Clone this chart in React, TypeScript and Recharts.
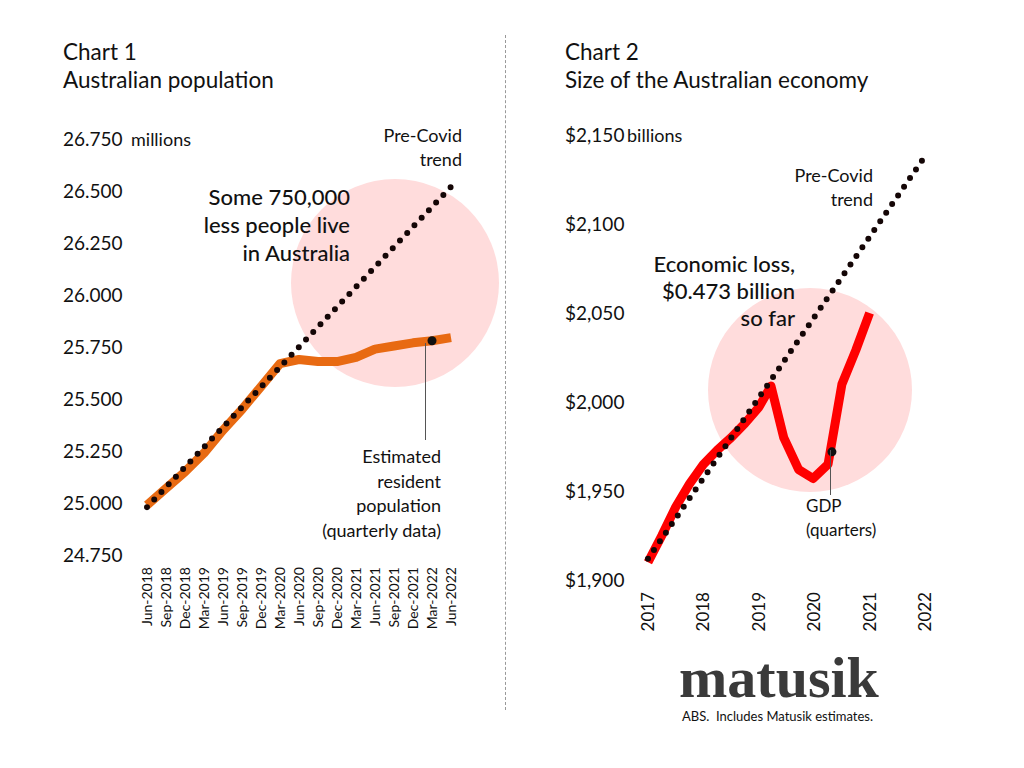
import React from "react";
import { LineChart, Line, XAxis, YAxis, ReferenceDot } from "recharts";

const FONT = "Lato, 'Noto Sans', sans-serif";

// Chart 1 – Australian population (millions)
const quarters = [
  "Jun-2018", "Sep-2018", "Dec-2018", "Mar-2019", "Jun-2019", "Sep-2019", "Dec-2019", "Mar-2020",
  "Jun-2020", "Sep-2020", "Dec-2020", "Mar-2021", "Jun-2021", "Sep-2021", "Dec-2021", "Mar-2022", "Jun-2022",
];
const population = [
  24.99, 25.07, 25.15, 25.24, 25.35, 25.45, 25.56, 25.67,
  25.69, 25.68, 25.68, 25.70, 25.74, 25.755, 25.77, 25.78, 25.795,
];
const popTrend: (number | null)[] = [
  24.98, null, null, null, null, null, null, null,
  null, null, null, null, null, null, null, null, 26.52,
];
const popTicks = [24.75, 25.0, 25.25, 25.5, 25.75, 26.0, 26.25, 26.5, 26.75];

// Chart 2 – GDP (billions)
const gdpYears = [
  2017.0, 2017.25, 2017.5, 2017.75, 2018.0, 2018.25, 2018.5, 2018.75, 2019.0,
  2019.22, 2019.45, 2019.72, 2019.98, 2020.25, 2020.5, 2020.75, 2021.0,
];
const gdpValues = [
  1910, 1925, 1941, 1954, 1965, 1973, 1980, 1988, 1997,
  2009, 1980, 1962, 1957, 1965, 2010, 2029, 2050,
];
const gdpTrendYears = [2017, 2022];
const gdpTrendValues = [1912, 2138];
const gdpTicks = [1900, 1950, 2000, 2050, 2100, 2150];
const yearTicks = [2017, 2018, 2019, 2020, 2021, 2022];

const popData = quarters.map((q, i) => ({ q, pop: population[i], trend: popTrend[i] }));
const gdpData = gdpYears.map((x, i) => ({ x, v: gdpValues[i] }));
const gdpTrend = gdpTrendYears.map((x, i) => ({ x, t: gdpTrendValues[i] }));

const DOTS = { stroke: "#140606", strokeWidth: 6, strokeDasharray: "0 10.5", strokeLinecap: "round" as const };

const LeftTick = (labelX: number, fmt: (v: number) => string) => (p: any) => (
  <text x={labelX} y={p.y + 7} fontSize={19} fontFamily={FONT} fill="#111" textAnchor="start">
    {fmt(p.payload.value)}
  </text>
);

const RotTick = (size: number) => (p: any) => (
  <text
    x={p.x + size * 0.35}
    y={p.y + 4}
    transform={`rotate(-90 ${p.x + size * 0.35} ${p.y + 4})`}
    fontSize={size}
    fontFamily={FONT}
    fill="#111"
    textAnchor="end"
  >
    {p.payload.value}
  </text>
);

const abs = (left: number, top: number, extra: React.CSSProperties = {}): React.CSSProperties => ({
  position: "absolute", left, top, fontFamily: FONT, color: "#111", whiteSpace: "nowrap", ...extra,
});

function Circle({ cx, cy, r }: { cx: number; cy: number; r: number }) {
  return (
    <div style={{ position: "absolute", left: cx - r, top: cy - r, width: r * 2, height: r * 2, borderRadius: "50%", background: "#FFDCDC" }} />
  );
}

export default function App() {
  return (
    <div style={{ position: "absolute", left: 0, top: 0, width: 1024, height: 768, background: "#fff", overflow: "hidden" }}>
      <Circle cx={395} cy={283} r={104} />
      <Circle cx={810} cy={390} r={102} />
      <div style={{ position: "absolute", left: 505, top: 35, height: 675, borderLeft: "1px dashed #999" }} />

      <div style={{ position: "absolute", left: 0, top: 0 }}>
        <LineChart width={500} height={768} data={popData} margin={{ top: 139, right: 49, left: 47, bottom: 113 }}>
          <XAxis dataKey="q" axisLine={false} tickLine={false} interval={0} height={100} tick={RotTick(14)} />
          <YAxis
            domain={[24.75, 26.75]}
            ticks={popTicks}
            axisLine={false}
            tickLine={false}
            width={100}
            tick={LeftTick(63, (v) => v.toFixed(3))}
          />
          <Line dataKey="pop" stroke="#E86A12" strokeWidth={9} dot={false} isAnimationActive={false} strokeLinejoin="round" />
          <Line dataKey="trend" connectNulls dot={false} isAnimationActive={false} {...DOTS} />
          <ReferenceDot x="Mar-2022" y={25.78} r={4.5} fill="#111" stroke="none" />
        </LineChart>
      </div>

      <div style={{ position: "absolute", left: 500, top: 0 }}>
        <LineChart width={524} height={768} margin={{ top: 135, right: 99, left: 48, bottom: 98 }}>
          <XAxis
            type="number"
            dataKey="x"
            domain={[2017, 2022]}
            ticks={yearTicks}
            axisLine={false}
            tickLine={false}
            height={90}
            tick={RotTick(17)}
            allowDuplicatedCategory={false}
          />
          <YAxis
            domain={[1900, 2150]}
            ticks={gdpTicks}
            axisLine={false}
            tickLine={false}
            width={100}
            tick={LeftTick(65, (v) => "$" + v.toLocaleString("en-US"))}
          />
          <Line data={gdpData} dataKey="v" stroke="#FF0000" strokeWidth={9} dot={false} isAnimationActive={false} strokeLinejoin="round" />
          <Line data={gdpTrend} dataKey="t" dot={false} isAnimationActive={false} {...DOTS} />
          <ReferenceDot x={2020.32} y={1972} r={4.5} fill="#111" stroke="none" />
        </LineChart>
      </div>

      {/* leader lines */}
      <div style={{ position: "absolute", left: 425, top: 343, height: 97, borderLeft: "1px solid #555" }} />
      <div style={{ position: "absolute", left: 830, top: 450, height: 45, borderLeft: "1px solid #555" }} />

      {/* titles */}
      <div style={abs(63, 38, { fontSize: 22.5, lineHeight: "28px" })}>Chart 1<br />Australian population</div>
      <div style={abs(565, 38, { fontSize: 22.5, lineHeight: "28px" })}>Chart 2<br />Size of the Australian economy</div>
      <div style={abs(131, 128, { fontSize: 18 })}>millions</div>
      <div style={abs(627, 124, { fontSize: 18 })}>billions</div>

      {/* chart 1 annotations */}
      <div style={abs(362, 123, { fontSize: 18, lineHeight: "24px", textAlign: "right", width: 100 })}>Pre-Covid<br />trend</div>
      <div style={abs(150, 183, { fontSize: 22, lineHeight: "28px", textAlign: "right", width: 200, fontWeight: 500 })}>
        Some 750,000<br />less people live<br />in Australia
      </div>
      <div style={abs(291, 444, { fontSize: 18, lineHeight: "24.5px", textAlign: "right", width: 150 })}>
        Estimated<br />resident<br />population<br />(quarterly data)
      </div>

      {/* chart 2 annotations */}
      <div style={abs(773, 163, { fontSize: 18, lineHeight: "24px", textAlign: "right", width: 100 })}>Pre-Covid<br />trend</div>
      <div style={abs(595, 250, { fontSize: 22, lineHeight: "27px", textAlign: "right", width: 200, fontWeight: 500 })}>
        Economic loss,<br />$0.473 billion<br />so far
      </div>
      <div style={abs(806, 494, { fontSize: 17, lineHeight: "24px" })}>GDP<br />(quarters)</div>

      {/* brand */}
      <div style={abs(679, 650, { fontSize: 58, fontWeight: 700, fontFamily: "'Liberation Serif', serif", color: "#3a3a3a", lineHeight: "56px" })}>
        matusik
      </div>
      <div style={abs(682, 708, { fontSize: 13 })}>ABS.&nbsp; Includes Matusik estimates.</div>
    </div>
  );
}
